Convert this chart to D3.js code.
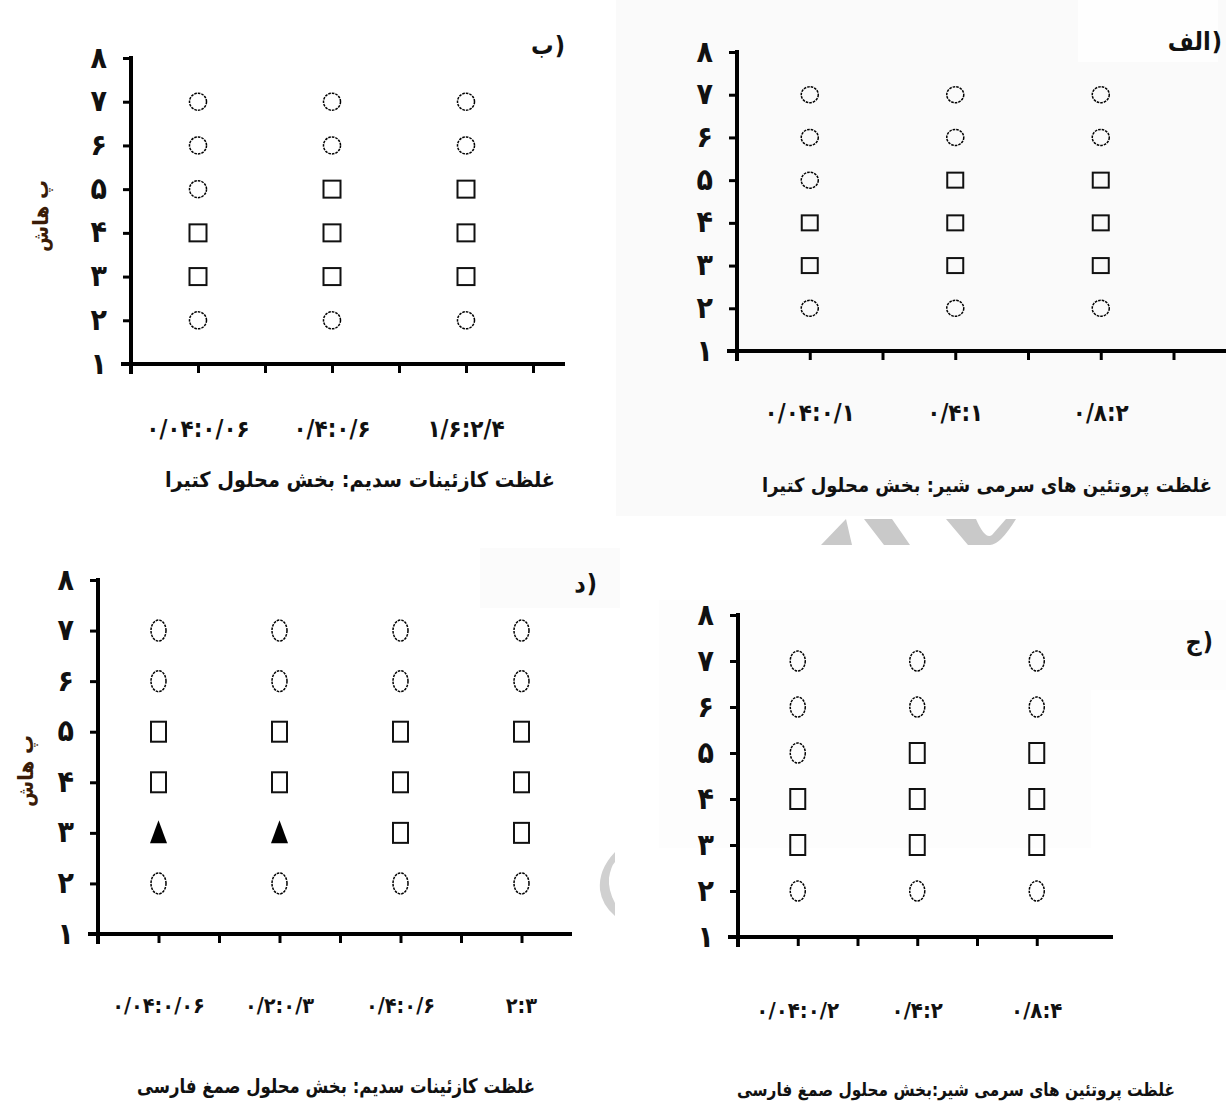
<!DOCTYPE html>
<html>
<head>
<meta charset="utf-8">
<script src="https://cdn.jsdelivr.net/npm/d3@7"></script>
<style>
  html, body { margin: 0; padding: 0; background: #fff; }
  svg { display: block; }
  .tick-label { font-family: "DejaVu Sans Condensed", "DejaVu Sans", sans-serif; font-weight: bold; fill: #111; }
  .fa { font-family: "DejaVu Sans Condensed", "DejaVu Sans", sans-serif; font-weight: bold; fill: #111; }
</style>
</head>
<body>
<svg id="chart" width="1226" height="1104"></svg>
<script>
// ---- data ----------------------------------------------------------------
// y axis: pH scale 1..8 with Persian digits
const yTickValues = [1, 2, 3, 4, 5, 6, 7, 8];
const yTickLabels = ["۱", "۲", "۳", "۴", "۵", "۶", "۷", "۸"];
// pH levels that were tested
const phLevels = [2, 3, 4, 5, 6, 7];
// state codes per pH level: "o" = circle, "s" = square, "t" = filled triangle

// panel الف : whey proteins, soluble tragacanth fraction
const catsAlef = ["۰/۰۴:۰/۱", "۰/۴:۱", "۰/۸:۲"];
const statesAlef = [
  ["o", "s", "s", "o", "o", "o"],
  ["o", "s", "s", "s", "o", "o"],
  ["o", "s", "s", "s", "o", "o"]
];
const titleAlef = "غلظت پروتئین های سرمی شیر: بخش محلول کتیرا";

// panel ب : sodium caseinate, soluble tragacanth fraction
const catsBe = ["۰/۰۴:۰/۰۶", "۰/۴:۰/۶", "۱/۶:۲/۴"];
const statesBe = [
  ["o", "s", "s", "o", "o", "o"],
  ["o", "s", "s", "s", "o", "o"],
  ["o", "s", "s", "s", "o", "o"]
];
const titleBe = "غلظت کازئینات سدیم: بخش محلول کتیرا";

// panel ج : whey proteins, soluble Persian gum fraction
const catsJim = ["۰/۰۴:۰/۲", "۰/۴:۲", "۰/۸:۴"];
const statesJim = [
  ["o", "s", "s", "o", "o", "o"],
  ["o", "s", "s", "s", "o", "o"],
  ["o", "s", "s", "s", "o", "o"]
];
const titleJim = "غلظت پروتئین های سرمی شیر:بخش محلول صمغ فارسی";

// panel د : sodium caseinate, soluble Persian gum fraction
const catsDal = ["۰/۰۴:۰/۰۶", "۰/۲:۰/۳", "۰/۴:۰/۶", "۲:۳"];
const statesDal = [
  ["o", "t", "s", "s", "o", "o"],
  ["o", "t", "s", "s", "o", "o"],
  ["o", "s", "s", "s", "o", "o"],
  ["o", "s", "s", "s", "o", "o"]
];
const titleDal = "غلظت کازئینات سدیم: بخش محلول صمغ فارسی";

const yAxisTitle = "پ هاش";

// ---- layout --------------------------------------------------------------
const svg = d3.select("#chart");
const FONT = "\"DejaVu Sans Condensed\", \"DejaVu Sans\", sans-serif";

// faint scan-like background panels
const bgRects = [
  { x: 616, y: 0, w: 610, h: 516, c: "#fafafa" },
  { x: 1078, y: 0, w: 140, h: 62, c: "#fefefe" },
  { x: 480, y: 548, w: 140, h: 60, c: "#fbfbfb" },
  { x: 659, y: 600, w: 432, h: 248, c: "#fdfdfd" },
  { x: 1091, y: 600, w: 135, h: 90, c: "#fdfdfd" }
];
svg.selectAll("rect.bg").data(bgRects).join("rect")
  .attr("class", "bg")
  .attr("x", d => d.x).attr("y", d => d.y)
  .attr("width", d => d.w).attr("height", d => d.h)
  .attr("fill", d => d.c);

// grey backdrop shapes partly hidden behind the panels
svg.append("path")
  .attr("d", "M821,545 L846,519 L852,545 Z M864,519 L892,519 L910,545 L884,545 Z M946,519 L976,519 Q985,540 992,535 L1006,519 L1016,519 Q1000,545 990,545 L968,545 Z")
  .attr("fill", "#c9c9c9");
svg.append("path")
  .attr("d", "M615,852 Q598,870 600,890 Q602,905 615,916 L615,903 Q608,890 609,878 Q611,866 615,862 Z")
  .attr("fill", "#d0d0d0");

const panels = [
  { cats: catsBe, states: statesBe, title: titleBe, tag: "ب", tagX: 565, tagY: 54,
    x0: 131, unit: 67, xEnd: 565, xTickMax: 6, yTop: 58, yBot: 364,
    labelY: 437, catSize: 24, titleX: 360, titleY: 487, titleW: 390, titleSize: 21,
    yTitle: { x: 48, y: 216 }, mw: 17, mh: 17, cw: 17, ch: 17 },
  { cats: catsAlef, states: statesAlef, title: titleAlef, tag: "الف", tagX: 1222, tagY: 50,
    x0: 737, unit: 72.75, xEnd: 1226, xTickMax: 6, yTop: 52, yBot: 351,
    labelY: 421, catSize: 24, titleX: 987, titleY: 492, titleW: 450, titleSize: 19.5,
    yTitle: null, mw: 16, mh: 15, cw: 17, ch: 16 },
  { cats: catsDal, states: statesDal, title: titleDal, tag: "د", tagX: 597, tagY: 592,
    x0: 98, unit: 60.5, xEnd: 572, xTickMax: 7, yTop: 580, yBot: 934,
    labelY: 1013, catSize: 21.5, titleX: 336, titleY: 1093, titleW: 398, titleSize: 20,
    yTitle: { x: 33, y: 771 }, mw: 15, mh: 20, cw: 15, ch: 21 },
  { cats: catsJim, states: statesJim, title: titleJim, tag: "ج", tagX: 1213, tagY: 650,
    x0: 738, unit: 59.75, xEnd: 1113, xTickMax: 5, yTop: 615, yBot: 937,
    labelY: 1018, catSize: 22, titleX: 956, titleY: 1096, titleW: 438, titleSize: 18,
    yTitle: null, mw: 15, mh: 20, cw: 15, ch: 20 }
];

panels.forEach(p => {
  const g = svg.append("g");

  const x = d3.scaleLinear()
    .domain([0, (p.xEnd - p.x0) / p.unit])
    .range([p.x0, p.xEnd]);
  const y = d3.scaleLinear()
    .domain([1, 8])
    .range([p.yBot, p.yTop]);

  // y axis
  const yAxis = d3.axisLeft(y)
    .tickValues(yTickValues)
    .tickFormat((d, i) => yTickLabels[i])
    .tickSize(8)
    .tickSizeOuter(0)
    .tickPadding(16);
  const yg = g.append("g").attr("transform", `translate(${p.x0},0)`).call(yAxis);
  yg.select(".domain").attr("stroke", "#000").attr("stroke-width", 4)
    .attr("d", `M0,${p.yTop - 2}V${p.yBot + 10}`);
  yg.selectAll(".tick line").attr("stroke", "#000").attr("stroke-width", 3);
  yg.selectAll(".tick text")
    .attr("class", "tick-label")
    .attr("font-size", 30)
    .attr("dy", "0.3em");

  // x axis (tick marks only; category labels are drawn below)
  const xAxis = d3.axisBottom(x)
    .tickValues(d3.range(0, p.xTickMax + 1))
    .tickFormat("")
    .tickSize(9)
    .tickSizeOuter(0);
  const xg = g.append("g").attr("transform", `translate(0,${p.yBot})`).call(xAxis);
  xg.select(".domain").attr("stroke", "#000").attr("stroke-width", 4)
    .attr("d", `M${p.x0 - 10},0H${p.xEnd}`);
  xg.selectAll(".tick line").attr("stroke", "#000").attr("stroke-width", 3);

  // category labels under every other tick
  g.selectAll("text.cat").data(p.cats).join("text")
    .attr("class", "fa cat")
    .attr("x", (d, i) => x(2 * i + 1))
    .attr("y", p.labelY)
    .attr("text-anchor", "middle")
    .attr("direction", "ltr")
    .attr("font-size", p.catSize)
    .text(d => d);

  // axis title, fitted to its printed width
  g.append("text")
    .attr("class", "fa")
    .attr("x", p.titleX - p.titleW / 2).attr("y", p.titleY)
    .attr("text-anchor", "start")
    .attr("font-size", p.titleSize)
    .attr("textLength", p.titleW)
    .attr("lengthAdjust", "spacingAndGlyphs")
    .text(p.title);

  // panel tag: letter followed by a closing parenthesis on its right
  const tag = g.append("text")
    .attr("class", "fa")
    .attr("x", p.tagX).attr("y", p.tagY)
    .attr("text-anchor", "end")
    .attr("direction", "ltr")
    .attr("font-size", 25);
  tag.append("tspan").text(p.tag);
  tag.append("tspan").attr("dx", 1).text(")");

  if (p.yTitle) {
    g.append("text")
      .attr("transform", `translate(${p.yTitle.x},${p.yTitle.y}) rotate(-90)`)
      .attr("text-anchor", "middle")
      .attr("direction", "rtl")
      .attr("font-family", FONT)
      .attr("font-weight", "bold")
      .attr("font-size", 21)
      .attr("fill", "#3a1c08")
      .text(yAxisTitle);
  }

  // markers
  const pts = [];
  p.states.forEach((col, i) => {
    col.forEach((s, j) => pts.push({ cx: x(2 * i + 1), cy: y(phLevels[j]), s }));
  });

  g.selectAll("ellipse.m").data(pts.filter(d => d.s === "o")).join("ellipse")
    .attr("class", "m")
    .attr("cx", d => d.cx).attr("cy", d => d.cy)
    .attr("rx", p.cw / 2).attr("ry", p.ch / 2)
    .attr("fill", "none")
    .attr("stroke", "#000")
    .attr("stroke-width", 1.5)
    .attr("stroke-dasharray", "2.6,1");

  g.selectAll("rect.m").data(pts.filter(d => d.s === "s")).join("rect")
    .attr("class", "m")
    .attr("x", d => d.cx - p.mw / 2).attr("y", d => d.cy - p.mh / 2)
    .attr("width", p.mw).attr("height", p.mh)
    .attr("fill", "none")
    .attr("stroke", "#111")
    .attr("stroke-width", 2);

  const tw = 17, th = 23;
  g.selectAll("path.m").data(pts.filter(d => d.s === "t")).join("path")
    .attr("class", "m")
    .attr("d", d => `M${d.cx},${d.cy - th / 2 - 1}L${d.cx + tw / 2},${d.cy + th / 2 - 1}L${d.cx - tw / 2},${d.cy + th / 2 - 1}Z`)
    .attr("fill", "#000");
});
</script>
</body>
</html>
